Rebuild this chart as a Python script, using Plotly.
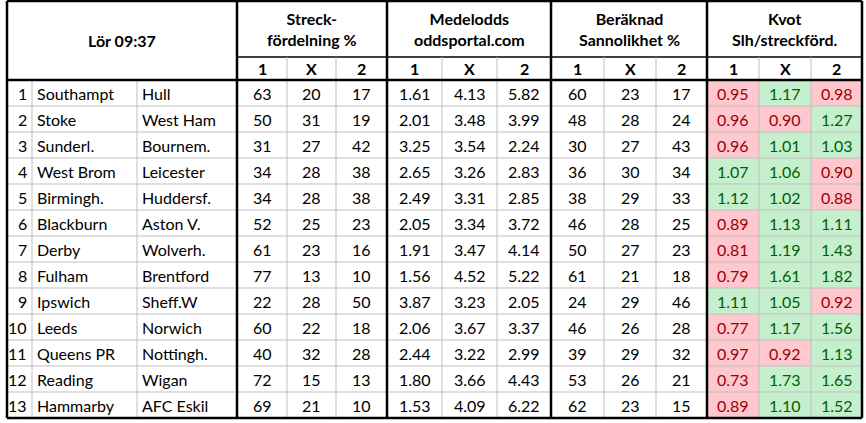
import plotly.graph_objects as go

idx = list(range(1, 14))
home = ["Southampt","Stoke","Sunderl.","West Brom","Birmingh.","Blackburn","Derby","Fulham","Ipswich","Leeds","Queens PR","Reading","Hammarby"]
away = ["Hull","West Ham","Bournem.","Leicester","Huddersf.","Aston V.","Wolverh.","Brentford","Sheff.W","Norwich","Nottingh.","Wigan","AFC Eskil"]
streck = [[63,20,17],[50,31,19],[31,27,42],[34,28,38],[34,28,38],[52,25,23],[61,23,16],[77,13,10],[22,28,50],[60,22,18],[40,32,28],[72,15,13],[69,21,10]]
odds = [[1.61,4.13,5.82],[2.01,3.48,3.99],[3.25,3.54,2.24],[2.65,3.26,2.83],[2.49,3.31,2.85],[2.05,3.34,3.72],[1.91,3.47,4.14],[1.56,4.52,5.22],[3.87,3.23,2.05],[2.06,3.67,3.37],[2.44,3.22,2.99],[1.80,3.66,4.43],[1.53,4.09,6.22]]
sann = [[60,23,17],[48,28,24],[30,27,43],[36,30,34],[38,29,33],[46,28,25],[50,27,23],[61,21,18],[24,29,46],[46,26,28],[39,29,32],[53,26,21],[62,23,15]]
kvot = [[0.95,1.17,0.98],[0.96,0.90,1.27],[0.96,1.01,1.03],[1.07,1.06,0.90],[1.12,1.02,0.88],[0.89,1.13,1.11],[0.81,1.19,1.43],[0.79,1.61,1.82],[1.11,1.05,0.92],[0.77,1.17,1.56],[0.97,0.92,1.13],[0.73,1.73,1.65],[0.89,1.10,1.52]]
title = "Lör 09:37"
groups = ["Streck-<br>fördelning %", "Medelodds<br>oddsportal.com", "Beräknad<br>Sannolikhet %", "Kvot<br>Slh/streckförd."]
sub = ["1", "X", "2"]

xb = [7, 32, 137, 237, 287, 336, 387, 442, 497, 551, 604, 656, 707, 759, 811, 862]
yt, yh, ys, rh = 1, 57, 80, 26
FONT = "Lato"
shapes, ann = [], []
def line(x0, y0, x1, y1, w=1, c="#bfbfbf"):
    shapes.append(dict(type="line", x0=x0, y0=y0, x1=x1, y1=y1, line=dict(color=c, width=w), layer="above"))
def txt(x, y, t, bold=False, color="black", xanchor="center", size=16):
    ann.append(dict(x=x, y=y, text=f"<b>{t}</b>" if bold else t, showarrow=False, xanchor=xanchor,
                    font=dict(family=FONT, size=size, color=color)))

nrows = len(idx)
ybot = ys + rh * nrows
for r in range(nrows):
    for c in range(3):
        v = kvot[r][c]
        fill = "#C6EFCE" if v >= 1 else "#FFC7CE"
        x0, x1 = xb[12 + c], xb[13 + c]
        y0 = ys + r * rh
        shapes.append(dict(type="rect", x0=x0, x1=x1, y0=y0, y1=y0 + rh, fillcolor=fill, line=dict(width=0), layer="below"))
for r in range(1, nrows):
    line(xb[0], ys + r * rh, xb[-1], ys + r * rh)
line(xb[3], yh, xb[-1], yh, 1.5, "black")
for i, x in enumerate(xb):
    if i in (0, 3, 6, 9, 12, 15):
        continue
    top = ys if i in (1, 2) else yh
    line(x, top, x, ybot)
for x in (xb[0], xb[3], xb[6], xb[9], xb[12], xb[15]):
    line(x, yt, x, ybot, 2.5, "black")
for y in (yt, ys, ybot):
    line(xb[0], y, xb[-1], y, 2.5, "black")

txt((xb[0] + xb[3]) / 2, (yt + ys) / 2, title, bold=True)
for g in range(4):
    xa, xz = xb[3 + 3 * g], xb[6 + 3 * g]
    txt((xa + xz) / 2, (yt + yh) / 2, groups[g], bold=True)
    for c in range(3):
        txt((xb[3 + 3 * g + c] + xb[4 + 3 * g + c]) / 2, (yh + ys) / 2, sub[c], bold=True)

for r in range(nrows):
    yc = ys + r * rh + rh / 2
    txt(xb[1] - 3, yc, str(idx[r]), xanchor="right")
    txt(xb[1] + 3, yc, home[r], xanchor="left")
    txt(xb[2] + 3, yc, away[r], xanchor="left")
    for c in range(3):
        txt((xb[3 + c] + xb[4 + c]) / 2, yc, str(streck[r][c]))
        txt((xb[6 + c] + xb[7 + c]) / 2, yc, f"{odds[r][c]:.2f}")
        txt((xb[9 + c] + xb[10 + c]) / 2, yc, str(sann[r][c]))
        v = kvot[r][c]
        txt((xb[12 + c] + xb[13 + c]) / 2, yc, f"{v:.2f}", color="#006100" if v >= 1 else "#9C0006")

fig = go.Figure(go.Scatter(x=[0, 866], y=[0, 423], mode="markers", marker=dict(opacity=0), hoverinfo="skip"))
fig.update_layout(width=866, height=423, margin=dict(l=0, r=0, t=0, b=0), plot_bgcolor="white", paper_bgcolor="white",
                  shapes=shapes, annotations=ann, showlegend=False,
                  xaxis=dict(range=[0, 866], visible=False, fixedrange=True),
                  yaxis=dict(range=[423, 0], visible=False, fixedrange=True))
fig.write_html("out.html", config={"displayModeBar": False},
               post_script="document.body.style.margin='0';document.body.style.overflow='hidden';")
